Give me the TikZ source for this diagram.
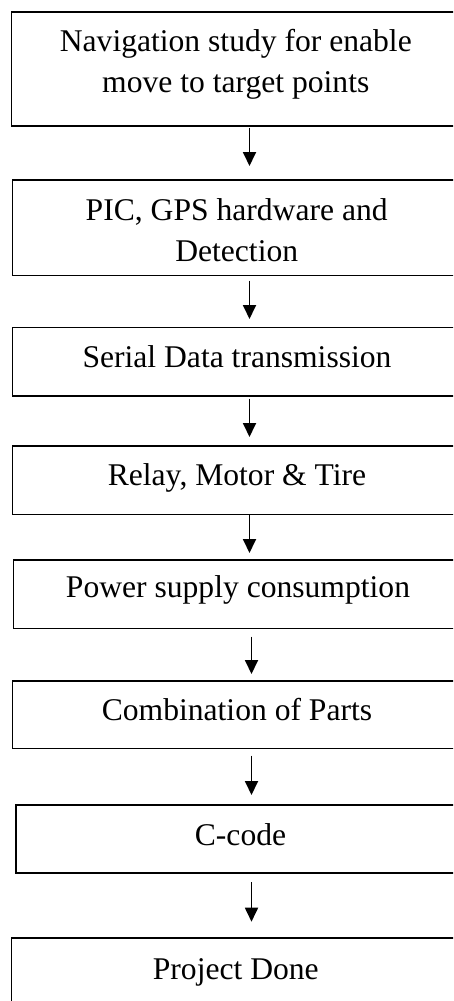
\documentclass[tikz,border=0pt]{standalone}
\usepackage{fontspec}
\setmainfont{Liberation Serif}
\usetikzlibrary{arrows.meta}
\begin{document}
\begin{tikzpicture}[x=1pt,y=1pt,
  flowbox/.style={draw=black, line width=1.7pt, rectangle, inner sep=0pt, anchor=north west},
  boxtext/.style={font=\fontsize{31.6}{41.3}\selectfont, align=center, anchor=base, inner sep=0pt},
  arr/.style={line width=1.8pt, -{Triangle[width=13pt,length=14pt]}}]
\useasboundingbox (0,0) rectangle (453,-1001);
\clip (0,0) rectangle (453,-1001);
% boxes
\node[flowbox, minimum width=454.3pt, minimum height=114pt] (b1) at (10.7,-11) {};
\node[flowbox, minimum width=453.3pt, minimum height=95.7pt] (b2) at (11.7,-179) {};
\node[flowbox, minimum width=453.3pt, minimum height=68.3pt] (b3) at (11.7,-326.7) {};
\node[flowbox, minimum width=453.3pt, minimum height=68.5pt] (b4) at (11.7,-445) {};
\node[flowbox, minimum width=452.3pt, minimum height=68.7pt] (b5) at (12.7,-559) {};
\node[flowbox, minimum width=453.3pt, minimum height=67.7pt] (b6) at (11.7,-680) {};
\node[flowbox, minimum width=450pt, minimum height=68pt] (b7) at (15,-804) {};
\node[flowbox, minimum width=454.3pt, minimum height=69pt] (b8) at (10.7,-937) {};
% texts (multi-line nodes: base = last line's baseline)
\node[boxtext] (t1) at (235.8,-92.7) {Navigation study for enable\\move to target points};
\node[boxtext] (t2) at (236.7,-261.7) {PIC, GPS hardware and\\Detection};
\node[boxtext] (t3) at (237,-367) {Serial Data transmission};
\node[boxtext] (t4) at (237,-485) {Relay, Motor \& Tire};
\node[boxtext] (t5) at (238,-597) {Power supply consumption};
\node[boxtext] (t6) at (237,-720) {Combination of Parts};
\node[boxtext] (t7) at (240.5,-845) {C-code};
\node[boxtext] (t8) at (235.8,-979.3) {Project Done};
% arrow axes
\coordinate (axA) at (249.5,0);
\coordinate (axB) at (251.5,0);
% arrows
\draw[arr, shorten <=1pt, shorten >=13pt] (b1.south -| axA) -- (b2.north -| axA);
\draw[arr, shorten <=4.3pt, shorten >=7.7pt] (b2.south -| axA) -- (b3.north -| axA);
\draw[arr, shorten <=2pt, shorten >=8pt] (b3.south -| axA) -- (b4.north -| axA);
\draw[arr, shorten <=0pt, shorten >=6pt] (b4.south -| axA) -- (b5.north -| axA);
\draw[arr, shorten <=7.3pt, shorten >=6pt] (b5.south -| axB) -- (b6.north -| axB);
\draw[arr, shorten <=6.3pt, shorten >=9pt] (b6.south -| axB) -- (b7.north -| axB);
\draw[arr, shorten <=8.7pt, shorten >=15.3pt] (b7.south -| axB) -- (b8.north -| axB);
\end{tikzpicture}
\end{document}
